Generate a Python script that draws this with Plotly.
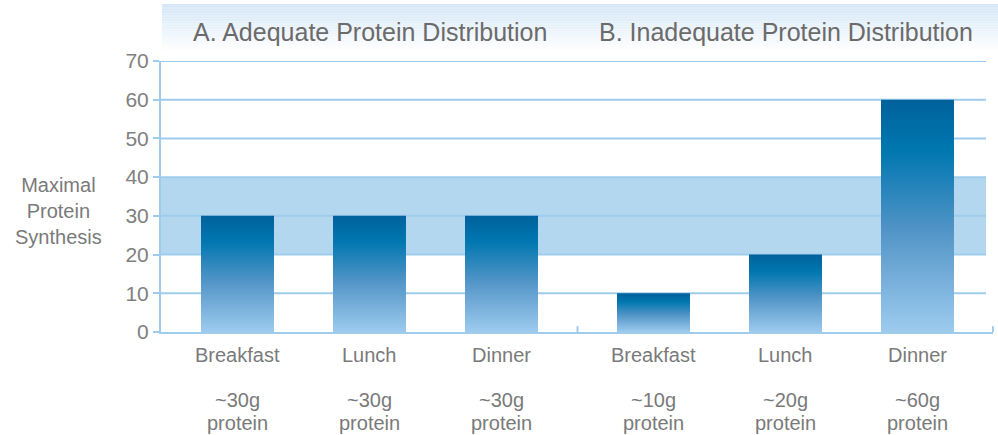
import plotly.graph_objects as go

# ---- data ----
meals = ["Breakfast", "Lunch", "Dinner"]
group_titles = ["A. Adequate Protein Distribution", "B. Inadequate Protein Distribution"]
adequate_values = [30, 30, 30]
inadequate_values = [10, 20, 60]
adequate_labels = ["~30g", "~30g", "~30g"]
inadequate_labels = ["~10g", "~20g", "~60g"]
unit_label = "protein"
y_ticks = [0, 10, 20, 30, 40, 50, 60, 70]
optimal_range = [20, 40]
y_title = "Maximal<br>Protein<br>Synthesis"

# ---- layout helpers ----
W, H = 998, 435
L, R, T, B = 161, 5, 61, 103
PW, PH = W - L - R, H - T - B
group_gap = 0.1515
bar_w = 0.553
x_min, x_max = -0.5795, 5.7235

def py(ypix):
    return (H - B - ypix) / PH

def px(xpix):
    return (xpix - L) / PW

groups = [adequate_values, inadequate_values]
group_labels = [adequate_labels, inadequate_labels]

positions, values, sublabels, cats = [], [], [], []
for gi, vals in enumerate(groups):
    for i, v in enumerate(vals):
        positions.append(i + gi * (len(meals) + group_gap))
        values.append(v)
        sublabels.append(group_labels[gi][i])
        cats.append(meals[i])

grad = [[0.0, "#9dcbee"], [0.45, "#4f93c6"], [0.78, "#0077b0"], [1.0, "#00619c"]]

fig = go.Figure()
for x, v in zip(positions, values):
    fig.add_trace(go.Scatter(
        x=[x - bar_w / 2, x + bar_w / 2, x + bar_w / 2, x - bar_w / 2, x - bar_w / 2],
        y=[0, 0, v, v, 0],
        mode="none", fill="toself",
        fillgradient=dict(type="vertical", colorscale=grad),
        hoverinfo="skip", showlegend=False,
    ))

grid_c = "#9fcbec"
shapes = []
# header gradient band
top_c = (210, 229, 246)
n = 30
band_top, band_bot = 4, 52
for k in range(n):
    y0p = band_top + (band_bot - band_top) * k / n
    y1p = band_top + (band_bot - band_top) * (k + 1) / n
    t = k / (n - 1)
    col = tuple(int(round(c + (255 - c) * t)) for c in top_c)
    shapes.append(dict(type="rect", xref="paper", yref="paper",
                       x0=px(162), x1=px(1000), y0=py(y1p), y1=py(y0p),
                       fillcolor="rgb(%d,%d,%d)" % col, line=dict(width=0), layer="below"))
# optimal band
grid_end = px(986)
shapes.append(dict(type="rect", xref="paper", yref="y", x0=0, x1=grid_end,
                   y0=optimal_range[0], y1=optimal_range[1],
                   fillcolor="#b4d7f0", line=dict(width=0), layer="below"))
# gridlines
for yt in y_ticks[1:]:
    shapes.append(dict(type="line", xref="paper", yref="y", x0=0, x1=grid_end,
                       y0=yt, y1=yt, line=dict(color=grid_c, width=2), layer="below"))
# separator tick and right end tick
sep = (positions[2] + positions[3]) / 2
shapes.append(dict(type="line", xref="x", yref="y", x0=sep, x1=sep, y0=0, y1=1.5,
                   line=dict(color=grid_c, width=2)))
shapes.append(dict(type="line", xref="paper", yref="y", x0=1, x1=1, y0=0, y1=1.5,
                   line=dict(color=grid_c, width=2)))

ann = []
txt_c = "#7a7a7a"
fontfam = "Liberation Sans, Arial, sans-serif"
for gi, title in enumerate(group_titles):
    cx = sum(positions[gi * 3:(gi + 1) * 3]) / 3
    ann.append(dict(text=title, x=cx, xref="x", y=py(32), yref="paper",
                    showarrow=False, font=dict(size=25, color="#6b6b6b", family=fontfam),
                    xanchor="center", yanchor="middle"))
for x, c, s in zip(positions, cats, sublabels):
    ann.append(dict(text=c, x=x, xref="x", y=py(355), yref="paper",
                    showarrow=False, font=dict(size=20, color=txt_c, family=fontfam),
                    xanchor="center", yanchor="middle"))
    ann.append(dict(text=s, x=x, xref="x", y=py(400), yref="paper",
                    showarrow=False, font=dict(size=20, color=txt_c, family=fontfam),
                    xanchor="center", yanchor="middle"))
    ann.append(dict(text=unit_label, x=x, xref="x", y=py(423), yref="paper",
                    showarrow=False, font=dict(size=20, color=txt_c, family=fontfam),
                    xanchor="center", yanchor="middle"))
ann.append(dict(text=y_title, x=px(58), xref="paper", y=py(211), yref="paper",
                showarrow=False, font=dict(size=20, color=txt_c, family=fontfam),
                xanchor="center", yanchor="middle"))

fig.update_layout(
    width=W, height=H,
    margin=dict(l=L, r=R, t=T, b=B),
    paper_bgcolor="white", plot_bgcolor="rgba(0,0,0,0)",
    shapes=shapes, annotations=ann,
    xaxis=dict(range=[x_min, x_max], showgrid=False, zeroline=False,
               showticklabels=False, showline=True, linecolor=grid_c, linewidth=2,
               fixedrange=True),
    yaxis=dict(range=[0, 70], tickvals=y_ticks, showgrid=False, zeroline=False,
               showline=True, linecolor=grid_c, linewidth=2,
               ticks="outside", ticklen=6, tickcolor=grid_c, tickwidth=2,
               tickfont=dict(size=21, color="#808080", family=fontfam),
               fixedrange=True),
)

fig.write_html("out.html", config={"displayModeBar": False},
               post_script="document.body.style.margin='0';")
